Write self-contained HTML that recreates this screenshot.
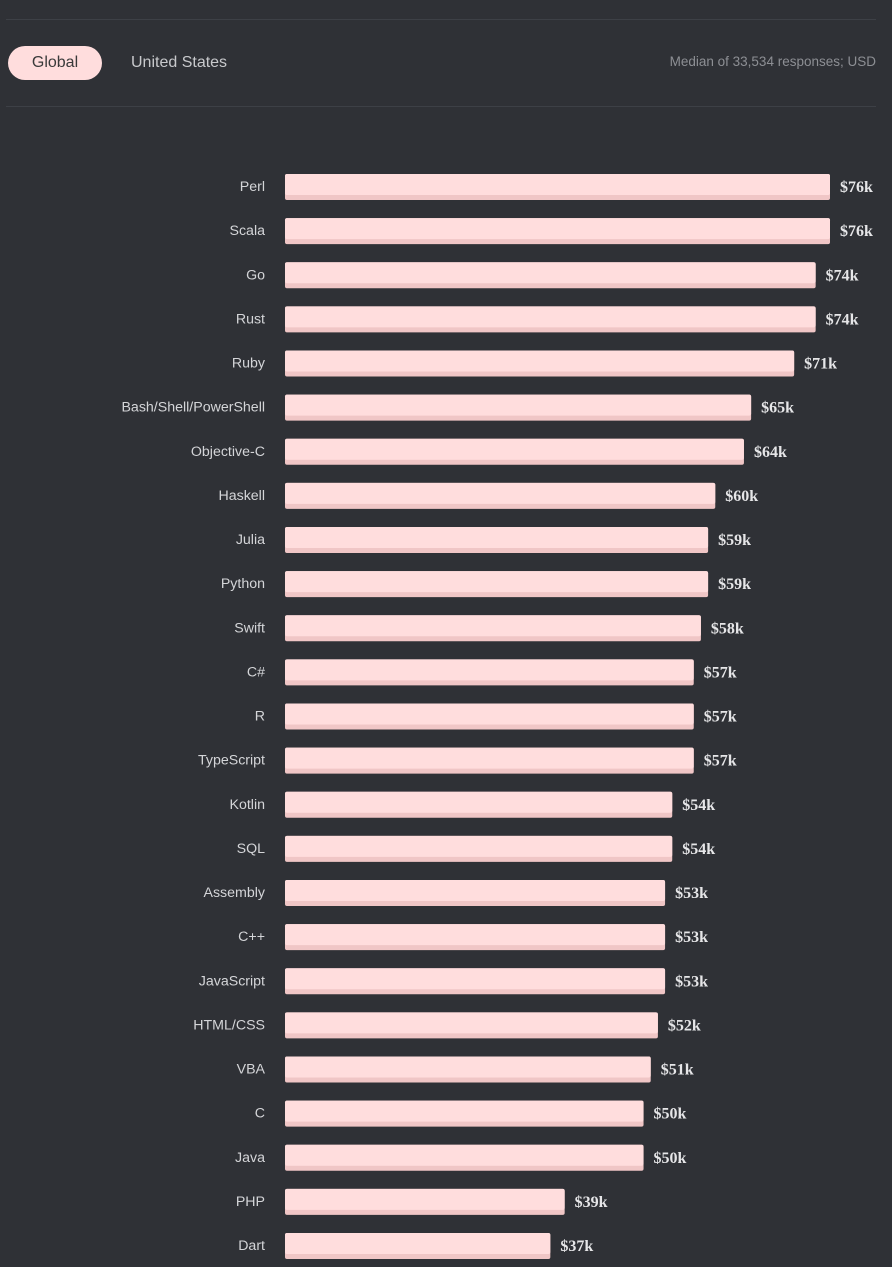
<!DOCTYPE html>
<html><head><meta charset="utf-8"><style>
body{margin:0;width:892px;height:1267px;background:#2f3136;font-family:"Liberation Sans",sans-serif;overflow:hidden;position:relative}
.hr{position:absolute;left:6px;right:16px;height:1px;background:#3d4046}
.tab{position:absolute;top:46px;height:34px;line-height:34px;font-size:16px}
</style></head><body>
<div class="hr" style="top:19px"></div>
<div class="tab" style="left:8px;width:94px;background:#ffdddd;color:#3a3a3a;border-radius:17px;text-align:center">Global</div>
<div class="tab" style="left:131px;color:#c8c9cc">United States</div>
<div style="position:absolute;right:16px;top:54px;font-size:13.5px;color:#8d8f94">Median of 33,534 responses; USD</div>
<div class="hr" style="top:106px"></div>
<svg id="chart" width="892" height="1267" style="position:absolute;left:0;top:0"></svg>
<script>
const categories=["Perl","Scala","Go","Rust","Ruby","Bash/Shell/PowerShell","Objective-C","Haskell","Julia","Python","Swift","C#","R","TypeScript","Kotlin","SQL","Assembly","C++","JavaScript","HTML/CSS","VBA","C","Java","PHP","Dart"];
const values=[76,76,74,74,71,65,64,60,59,59,58,57,57,57,54,54,53,53,53,52,51,50,50,39,37];
const labels=values.map(v=>"$"+v+"k");
const svg=document.getElementById('chart');const NS="http://www.w3.org/2000/svg";
const x=v=>v*545/76;
const y=i=>174+i*44.125;
categories.forEach((c,i)=>{
 const g=document.createElementNS(NS,'g');
 
 
 const w=x(values[i]);
 const b=document.createElementNS(NS,'rect');
 
 
 b.setAttribute('x',285);b.setAttribute('y',y(i));b.setAttribute('width',w);b.setAttribute('height',26);b.setAttribute('rx',2);b.setAttribute('fill','#f0c6c6');
 const t=document.createElementNS(NS,'rect');
 
 
 t.setAttribute('x',285);t.setAttribute('y',y(i));t.setAttribute('width',w);t.setAttribute('height',21);t.setAttribute('rx',2);t.setAttribute('fill','#ffdddd');
 const l=document.createElementNS(NS,'text');
 
 
 l.setAttribute('x',265);l.setAttribute('y',y(i)+17);l.setAttribute('text-anchor','end');l.setAttribute('fill','#d4d5d8');l.setAttribute('font-size','14.2');l.textContent=c;
 const v=document.createElementNS(NS,'text');
 
 
 v.setAttribute('x',285+w+10);v.setAttribute('y',y(i)+18);v.setAttribute('fill','#e6e6e8');v.setAttribute('font-size','16');v.setAttribute('font-weight','bold');v.setAttribute('font-family','"Liberation Serif",serif');v.textContent=labels[i];
 g.append(b,t,l,v);svg.appendChild(g);
});
</script>
</body></html>
